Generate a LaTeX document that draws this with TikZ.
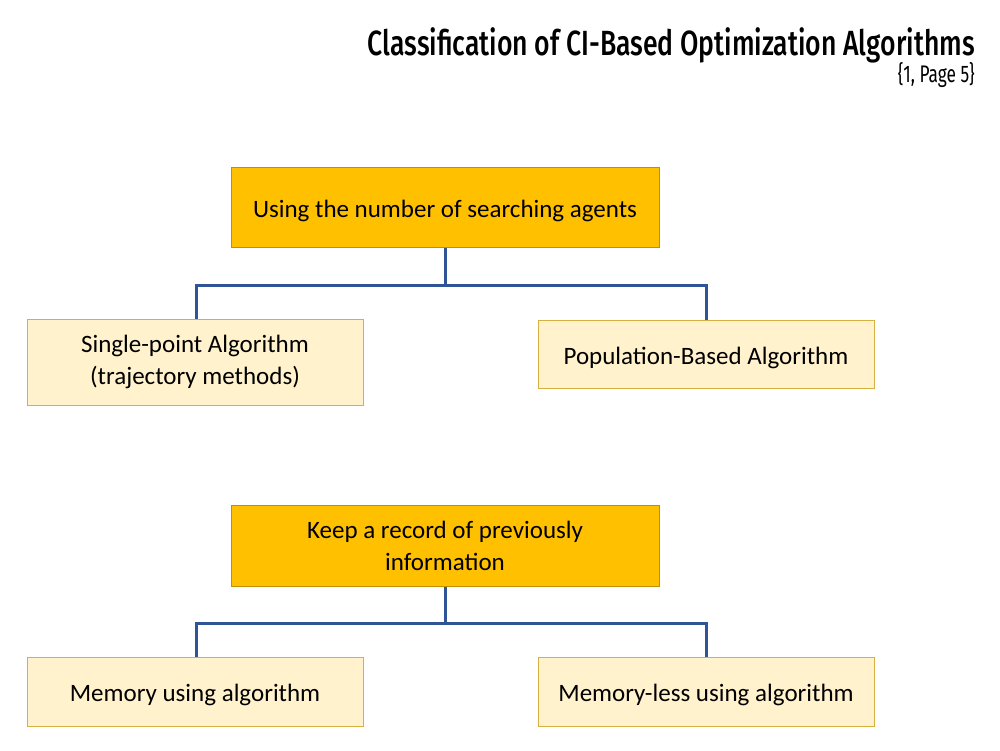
\documentclass[tikz,border=0pt]{standalone}
\usepackage{fontspec}
\setmainfont{Carlito}
\newfontfamily\titlefont[FakeStretch=0.76]{Fira Sans Medium}
\newfontfamily\subfont[FakeStretch=0.72]{Fira Sans}
\definecolor{darkbox}{HTML}{FFC000}
\definecolor{darkedge}{HTML}{BF9000}
\definecolor{lightbox}{HTML}{FFF2CC}
\definecolor{lightedge}{HTML}{D6B040}
\definecolor{linkblue}{HTML}{2F5597}
\tikzset{
  x=1pt, y=-1pt,
  boxtext/.style={align=center, font=\fontsize{25}{32}\selectfont, execute at begin node={\rule{0pt}{25pt}}},
  headbox/.style={draw=darkedge, fill=darkbox, line width=1pt, boxtext},
  leafbox/.style={draw=lightedge, fill=lightbox, line width=1pt, boxtext},
  link/.style={draw=linkblue, line width=3pt}
}
\begin{document}
\begin{tikzpicture}
\useasboundingbox (0,0) rectangle (1000,750);
\node[anchor=base east, inner sep=0pt, font=\titlefont\fontsize{35}{38}\selectfont] (title) at (975,55) {Classification of CI-Based Optimization Algorithms};
\node[anchor=base east, inner sep=0pt, font=\subfont\fontsize{24}{26}\selectfont] (sub) at (975,82) {\{1, Page 5\}};

\node[headbox, minimum width=428, minimum height=80] (h1) at (445,207) {Using the number of searching agents};
\node[leafbox, minimum width=336, minimum height=86] (l1) at (195,362) {Single-point Algorithm\\(trajectory methods)};
\node[leafbox, minimum width=336, minimum height=68] (r1) at (706,354) {Population-Based Algorithm};
\coordinate (j1) at (445,285);
\draw[link] (h1.south) -- (j1);
\draw[link] (l1.north -| 196,0) |- (j1) -| (r1.north);

\node[headbox, minimum width=428, minimum height=81] (h2) at (445,545.5) {Keep a record of previously\\information};
\node[leafbox, minimum width=336, minimum height=69] (l2) at (195,691.5) {Memory using algorithm};
\node[leafbox, minimum width=336, minimum height=69] (r2) at (706,691.5) {Memory-less using algorithm};
\coordinate (j2) at (445,623);
\draw[link] (h2.south) -- (j2);
\draw[link] (l2.north -| 196,0) |- (j2) -| (r2.north);
\end{tikzpicture}
\end{document}
